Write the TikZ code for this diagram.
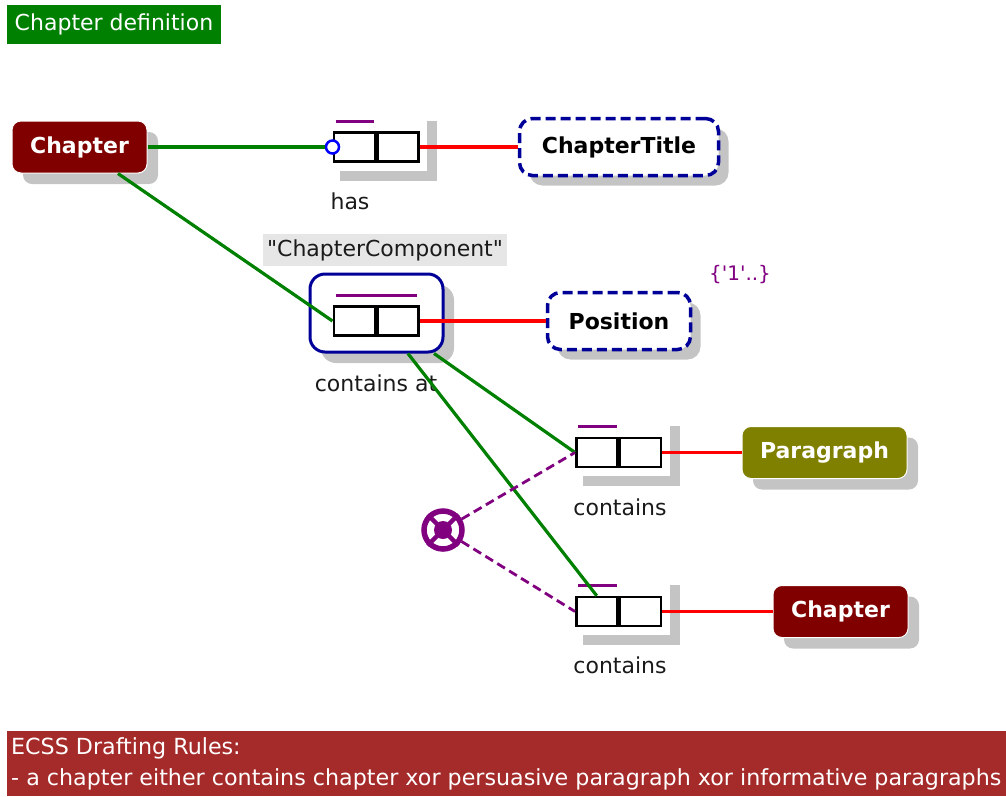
\documentclass[tikz,border=0pt]{standalone}
\usepackage{fontspec}
\setmainfont{DejaVu Sans}[Ligatures=TeXOff]
\usetikzlibrary{shadows,calc}

\definecolor{titlegreen}{HTML}{008000}
\definecolor{chapred}{HTML}{800000}
\definecolor{olivebox}{HTML}{808000}
\definecolor{navyline}{HTML}{000099}
\definecolor{linkred}{HTML}{FF0000}
\definecolor{linkgreen}{HTML}{008000}
\definecolor{rolepurple}{HTML}{800080}
\definecolor{rulesred}{HTML}{A52A2A}
\definecolor{shadowgray}{HTML}{C4C4C4}
\definecolor{namebg}{HTML}{E6E6E6}
\definecolor{labeltext}{HTML}{1A1A1A}

\newcommand\lblfont{\fontsize{22}{26}\selectfont}

\begin{document}
\begin{tikzpicture}[x=1pt,y=-1pt,
  myshadow/.style={drop shadow={shadow xshift=11pt,shadow yshift=-11pt,fill=shadowgray,opacity=1}},
  entity/.style={rounded corners=9pt,draw=white,line width=1pt,text=white,
    font=\lblfont\bfseries,inner sep=0pt,minimum height=52pt,myshadow},
  attrbox/.style={rounded corners=13pt,draw=navyline,dash pattern=on 10pt off 5pt,
    line width=3.5pt,fill=white,text=black,font=\lblfont\bfseries,inner sep=0pt,
    minimum height=57pt,drop shadow={shadow xshift=10pt,shadow yshift=-10pt,fill=shadowgray,opacity=1}},
  rolebg/.style={fill=white,inner sep=0pt,minimum width=97pt,minimum height=60pt,
    drop shadow={shadow xshift=10pt,shadow yshift=-10pt,fill=shadowgray,opacity=1}},
  cell/.style={draw=black,line width=2.5pt,fill=white,inner sep=0pt,
    minimum width=41pt,minimum height=29pt},
  rolebar/.style={draw=rolepurple,line width=2.8pt},
  rolelabel/.style={font=\lblfont,text=labeltext,inner sep=0pt},
  greenlink/.style={draw=linkgreen,line width=3.2pt},
  redlink/.style={draw=linkred,line width=3.2pt},
  xorlink/.style={draw=rolepurple,line width=2.8pt,dash pattern=on 9pt off 5pt},
  rulestext/.style={anchor=west,text=white,font=\fontsize{22.2}{26}\selectfont,inner sep=0pt},
]
\useasboundingbox (0,0) rectangle (1006,796);

% heading
\node[fill=titlegreen,text=white,font=\lblfont,inner sep=0pt,
  minimum width=214pt,minimum height=39pt] (heading) at (114,24.5) {Chapter definition};

% rules footer
\node[fill=rulesred,inner sep=0pt,minimum width=999pt,minimum height=65pt] (rules) at (506.5,763.5) {};
\node[rulestext] (rule1) at (11,748) {ECSS Drafting Rules:};
\node[rulestext] (rule2) at (11,779)
  {- a chapter either contains chapter xor persuasive paragraph xor informative paragraphs};

% entity types
\node[entity,fill=chapred,minimum width=135pt] (chap) at (79.5,147) {Chapter};
\node[entity,fill=olivebox,minimum width=165pt] (para) at (824.5,452.5) {Paragraph};
\node[entity,fill=chapred,minimum width=135pt] (subchap) at (840.5,611.5) {Chapter};

% value types
\node[attrbox,minimum width=199pt] (ctitle) at (619,147) {ChapterTitle};
\node[attrbox,minimum width=143pt] (pos) at (619,321) {Position};

% role "has"
\coordinate (hasc) at (376,147);
\node[rolebg] (hasbg) at ($(hasc)+(2.5,-6)$) {};
\node[cell,anchor=east] (hasl) at (hasc) {};
\node[cell,anchor=west] (hasr) at (hasc) {};
\draw[rolebar] ($(hasl.north west)+(3,-10)$) -- ($(hasl.north east)+(-2,-10)$);
\node[rolelabel] (haslbl) at (350,201) {has};

% objectified role "contains at"
\node[fill=namebg,font=\lblfont,text=labeltext,inner sep=0pt,
  minimum width=244pt,minimum height=32pt] (compname) at (385,250) {"ChapterComponent"};
\node[draw=navyline,line width=3pt,rounded corners=15pt,fill=white,inner sep=0pt,
  minimum width=133pt,minimum height=78pt,myshadow] (cabox) at (376.5,313) {};
\coordinate (cac) at (376,321);
\node[cell,anchor=east] (cal) at (cac) {};
\node[cell,anchor=west] (car) at (cac) {};
\draw[rolebar] ($(cal.north west)+(3,-10)$) -- ($(car.north east)+(-3,-10)$);
\node[rolelabel] (calbl) at (376,383) {contains at};
\node[font=\fontsize{20}{24}\selectfont,text=rolepurple,inner sep=0pt] (freq) at (740,275) {\{'1'..\}};

% role "contains" (paragraph)
\coordinate (c1c) at (618.5,452.5);
\node[rolebg] (c1bg) at ($(c1c)+(2.5,-6.5)$) {};
\node[cell,anchor=east] (c1l) at (c1c) {};
\node[cell,anchor=west] (c1r) at (c1c) {};
\draw[rolebar] ($(c1l.north west)+(3,-10)$) -- ($(c1l.north east)+(-2,-10)$);
\node[rolelabel] (c1lbl) at (620,507) {contains};

% role "contains" (sub-chapter)
\coordinate (c2c) at (618.5,611.5);
\node[rolebg] (c2bg) at ($(c2c)+(2.5,-6.5)$) {};
\node[cell,anchor=east] (c2l) at (c2c) {};
\node[cell,anchor=west] (c2r) at (c2c) {};
\draw[rolebar] ($(c2l.north west)+(3,-10)$) -- ($(c2l.north east)+(-2,-10)$);
\node[rolelabel] (c2lbl) at (620,665) {contains};

% exclusion constraint
\node[circle,draw=rolepurple,line width=5.5pt,fill=white,minimum size=38pt,inner sep=0pt] (xor) at (443,530) {};
\draw[rolepurple,line width=4.5pt] (xor.north east) -- (xor.south west);
\draw[rolepurple,line width=4.5pt] (xor.north west) -- (xor.south east);
\fill[rolepurple] (xor.center) circle (9pt);

% connectors
\node[circle,draw=blue,line width=2.5pt,fill=white,minimum size=13pt,inner sep=0pt] (mand) at (hasl.west) {};
\draw[greenlink] (chap.east) -- (mand.west);
\draw[redlink] (hasr.east) -- (ctitle.west);
\draw[greenlink] (chap) -- (cal.west);
\draw[redlink] (car.east) -- (pos.west);
\draw[greenlink] (cabox) -- (c1l.west);
\draw[greenlink] (cabox) -- (c2l.north);
\draw[redlink] (c1r.east) -- (para.west);
\draw[redlink] (c2r.east) -- (subchap.west);
\draw[xorlink] (xor) -- (c1l.west);
\draw[xorlink] (xor) -- (c2l.west);
\end{tikzpicture}
\end{document}
